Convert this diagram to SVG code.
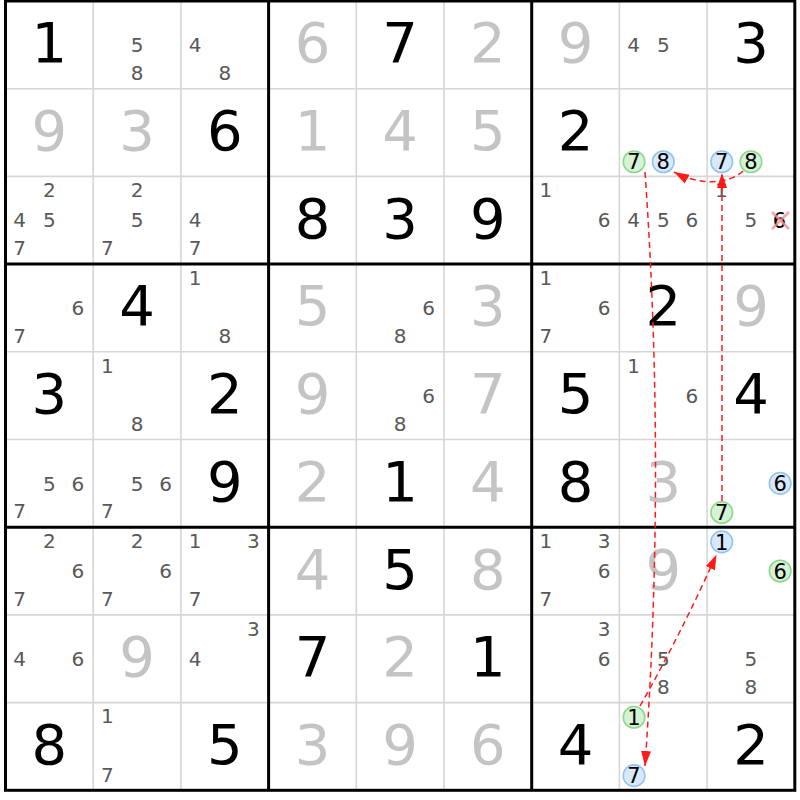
<svg xmlns="http://www.w3.org/2000/svg" width="800" height="800" viewBox="0 0 800 800">
<style>
text{font-family:"DejaVu Sans",Verdana,sans-serif;text-anchor:middle}
.g{font-size:56px;fill:#000}
.s{font-size:56px;fill:#c4c4c4}
.c{font-size:20px;fill:#585858}
.cc{font-size:21px;fill:#000}
.gr{fill:#d5f2d5;stroke:#8ed88e;stroke-width:1.6}
.bl{fill:#d8e9fb;stroke:#92c3f3;stroke-width:1.6}
.thin{stroke:#d6d6d6;stroke-width:1.6}
.thick{stroke:#000;stroke-width:3}
.lnk{fill:none;stroke:#ff1a1a;stroke-width:1.5;stroke-dasharray:6,4}
</style>
<defs>
<marker id="ah" markerUnits="userSpaceOnUse" markerWidth="16" markerHeight="12" refX="15" refY="5.5" orient="auto">
<path d="M0,0.5 L15,5.5 L0,10.5 z" fill="#ff1a1a"/>
</marker>
</defs>
<rect width="800" height="800" fill="#fff"/>
<g id="grid">
<g class="thin">
<line x1="93.2" y1="1" x2="93.2" y2="790.3"/><line x1="180.9" y1="1" x2="180.9" y2="790.3"/>
<line x1="356.3" y1="1" x2="356.3" y2="790.3"/><line x1="444" y1="1" x2="444" y2="790.3"/>
<line x1="619.4" y1="1" x2="619.4" y2="790.3"/><line x1="707.1" y1="1" x2="707.1" y2="790.3"/>
<line x1="5.5" y1="88.7" x2="794.8" y2="88.7"/><line x1="5.5" y1="176.4" x2="794.8" y2="176.4"/>
<line x1="5.5" y1="351.8" x2="794.8" y2="351.8"/><line x1="5.5" y1="439.5" x2="794.8" y2="439.5"/>
<line x1="5.5" y1="614.9" x2="794.8" y2="614.9"/><line x1="5.5" y1="702.6" x2="794.8" y2="702.6"/>
</g>
<g class="thick">
<line x1="268.6" y1="1" x2="268.6" y2="790.3"/><line x1="531.7" y1="1" x2="531.7" y2="790.3"/>
<line x1="5.5" y1="264.1" x2="794.8" y2="264.1"/><line x1="5.5" y1="527.2" x2="794.8" y2="527.2"/>
<rect x="5.5" y="1" width="789.3" height="789.3" fill="none"/>
</g>
</g>
<g id="r0">
<g id="r0c0"><text class="g" x="49.35" y="62.35">1</text></g>
<g id="r0c1"><text class="c" x="137.05" y="52">5</text><text class="c" x="137.05" y="79.9">8</text></g>
<g id="r0c2"><text class="c" x="195.05" y="52">4</text><text class="c" x="224.75" y="79.9">8</text></g>
<g id="r0c3"><text class="s" x="312.45" y="62.35">6</text></g>
<g id="r0c4"><text class="g" x="400.15" y="62.35">7</text></g>
<g id="r0c5"><text class="s" x="487.85" y="62.35">2</text></g>
<g id="r0c6"><text class="s" x="575.55" y="62.35">9</text></g>
<g id="r0c7"><text class="c" x="633.55" y="52">4</text><text class="c" x="663.25" y="52">5</text></g>
<g id="r0c8"><text class="g" x="750.95" y="62.35">3</text></g>
</g>
<g id="r1">
<g id="r1c0"><text class="s" x="49.35" y="150.05">9</text></g>
<g id="r1c1"><text class="s" x="137.05" y="150.05">3</text></g>
<g id="r1c2"><text class="g" x="224.75" y="150.05">6</text></g>
<g id="r1c3"><text class="s" x="312.45" y="150.05">1</text></g>
<g id="r1c4"><text class="s" x="400.15" y="150.05">4</text></g>
<g id="r1c5"><text class="s" x="487.85" y="150.05">5</text></g>
<g id="r1c6"><text class="g" x="575.55" y="150.05">2</text></g>
<g id="r1c7"><circle class="gr" cx="634.05" cy="161.75" r="10.8"/><text class="cc" x="634.05" y="169.4">7</text><circle class="bl" cx="663.25" cy="161.75" r="10.8"/><text class="cc" x="663.25" y="169.4">8</text></g>
<g id="r1c8"><circle class="bl" cx="721.75" cy="161.75" r="10.8"/><text class="cc" x="721.75" y="169.4">7</text><circle class="gr" cx="750.95" cy="161.75" r="10.8"/><text class="cc" x="750.95" y="169.4">8</text></g>
</g>
<g id="r2">
<g id="r2c0"><text class="c" x="49.35" y="197.1">2</text><text class="c" x="19.65" y="227.4">4</text><text class="c" x="49.35" y="227.4">5</text><text class="c" x="19.65" y="255.3">7</text></g>
<g id="r2c1"><text class="c" x="137.05" y="197.1">2</text><text class="c" x="137.05" y="227.4">5</text><text class="c" x="107.35" y="255.3">7</text></g>
<g id="r2c2"><text class="c" x="195.05" y="227.4">4</text><text class="c" x="195.05" y="255.3">7</text></g>
<g id="r2c3"><text class="g" x="312.45" y="237.75">8</text></g>
<g id="r2c4"><text class="g" x="400.15" y="237.75">3</text></g>
<g id="r2c5"><text class="g" x="487.85" y="237.75">9</text></g>
<g id="r2c6"><text class="c" x="545.85" y="197.1">1</text><text class="c" x="604.05" y="227.4">6</text></g>
<g id="r2c7"><text class="c" x="633.55" y="227.4">4</text><text class="c" x="663.25" y="227.4">5</text><text class="c" x="691.75" y="227.4">6</text></g>
<g id="r2c8"><text class="c" x="721.25" y="197.1">1</text><text class="c" x="750.95" y="227.4">5</text><text class="cc" x="779.45" y="227.6">6</text><path d="M772,212 L789,229 M789,212 L772,229" stroke="#f28c8c" stroke-width="2.5" stroke-opacity="0.8"/></g>
</g>
<g id="r3">
<g id="r3c0"><text class="c" x="77.85" y="315.1">6</text><text class="c" x="19.65" y="343">7</text></g>
<g id="r3c1"><text class="g" x="137.05" y="325.45">4</text></g>
<g id="r3c2"><text class="c" x="195.05" y="284.8">1</text><text class="c" x="224.75" y="343">8</text></g>
<g id="r3c3"><text class="s" x="312.45" y="325.45">5</text></g>
<g id="r3c4"><text class="c" x="428.65" y="315.1">6</text><text class="c" x="400.15" y="343">8</text></g>
<g id="r3c5"><text class="s" x="487.85" y="325.45">3</text></g>
<g id="r3c6"><text class="c" x="545.85" y="284.8">1</text><text class="c" x="604.05" y="315.1">6</text><text class="c" x="545.85" y="343">7</text></g>
<g id="r3c7"><text class="g" x="663.25" y="325.45">2</text></g>
<g id="r3c8"><text class="s" x="750.95" y="325.45">9</text></g>
</g>
<g id="r4">
<g id="r4c0"><text class="g" x="49.35" y="413.15">3</text></g>
<g id="r4c1"><text class="c" x="107.35" y="372.5">1</text><text class="c" x="137.05" y="430.7">8</text></g>
<g id="r4c2"><text class="g" x="224.75" y="413.15">2</text></g>
<g id="r4c3"><text class="s" x="312.45" y="413.15">9</text></g>
<g id="r4c4"><text class="c" x="428.65" y="402.8">6</text><text class="c" x="400.15" y="430.7">8</text></g>
<g id="r4c5"><text class="s" x="487.85" y="413.15">7</text></g>
<g id="r4c6"><text class="g" x="575.55" y="413.15">5</text></g>
<g id="r4c7"><text class="c" x="633.55" y="372.5">1</text><text class="c" x="691.75" y="402.8">6</text></g>
<g id="r4c8"><text class="g" x="750.95" y="413.15">4</text></g>
</g>
<g id="r5">
<g id="r5c0"><text class="c" x="49.35" y="490.5">5</text><text class="c" x="77.85" y="490.5">6</text><text class="c" x="19.65" y="518.4">7</text></g>
<g id="r5c1"><text class="c" x="137.05" y="490.5">5</text><text class="c" x="165.55" y="490.5">6</text><text class="c" x="107.35" y="518.4">7</text></g>
<g id="r5c2"><text class="g" x="224.75" y="500.85">9</text></g>
<g id="r5c3"><text class="s" x="312.45" y="500.85">2</text></g>
<g id="r5c4"><text class="g" x="400.15" y="500.85">1</text></g>
<g id="r5c5"><text class="s" x="487.85" y="500.85">4</text></g>
<g id="r5c6"><text class="g" x="575.55" y="500.85">8</text></g>
<g id="r5c7"><text class="s" x="663.25" y="500.85">3</text></g>
<g id="r5c8"><circle class="bl" cx="780.15" cy="483.35" r="10.8"/><text class="cc" x="780.15" y="491">6</text><circle class="gr" cx="721.75" cy="512.55" r="10.8"/><text class="cc" x="721.75" y="520.2">7</text></g>
</g>
<g id="r6">
<g id="r6c0"><text class="c" x="49.35" y="547.9">2</text><text class="c" x="77.85" y="578.2">6</text><text class="c" x="19.65" y="606.1">7</text></g>
<g id="r6c1"><text class="c" x="137.05" y="547.9">2</text><text class="c" x="165.55" y="578.2">6</text><text class="c" x="107.35" y="606.1">7</text></g>
<g id="r6c2"><text class="c" x="195.05" y="547.9">1</text><text class="c" x="253.25" y="547.9">3</text><text class="c" x="195.05" y="606.1">7</text></g>
<g id="r6c3"><text class="s" x="312.45" y="588.55">4</text></g>
<g id="r6c4"><text class="g" x="400.15" y="588.55">5</text></g>
<g id="r6c5"><text class="s" x="487.85" y="588.55">8</text></g>
<g id="r6c6"><text class="c" x="545.85" y="547.9">1</text><text class="c" x="604.05" y="547.9">3</text><text class="c" x="604.05" y="578.2">6</text><text class="c" x="545.85" y="606.1">7</text></g>
<g id="r6c7"><text class="s" x="663.25" y="588.55">9</text></g>
<g id="r6c8"><circle class="bl" cx="721.75" cy="541.85" r="10.8"/><text class="cc" x="721.75" y="549.5">1</text><circle class="gr" cx="780.15" cy="571.05" r="10.8"/><text class="cc" x="780.15" y="578.7">6</text></g>
</g>
<g id="r7">
<g id="r7c0"><text class="c" x="19.65" y="665.9">4</text><text class="c" x="77.85" y="665.9">6</text></g>
<g id="r7c1"><text class="s" x="137.05" y="676.25">9</text></g>
<g id="r7c2"><text class="c" x="253.25" y="635.6">3</text><text class="c" x="195.05" y="665.9">4</text></g>
<g id="r7c3"><text class="g" x="312.45" y="676.25">7</text></g>
<g id="r7c4"><text class="s" x="400.15" y="676.25">2</text></g>
<g id="r7c5"><text class="g" x="487.85" y="676.25">1</text></g>
<g id="r7c6"><text class="c" x="604.05" y="635.6">3</text><text class="c" x="604.05" y="665.9">6</text></g>
<g id="r7c7"><text class="c" x="663.25" y="665.9">5</text><text class="c" x="663.25" y="693.8">8</text></g>
<g id="r7c8"><text class="c" x="750.95" y="665.9">5</text><text class="c" x="750.95" y="693.8">8</text></g>
</g>
<g id="r8">
<g id="r8c0"><text class="g" x="49.35" y="763.95">8</text></g>
<g id="r8c1"><text class="c" x="107.35" y="723.3">1</text><text class="c" x="107.35" y="781.5">7</text></g>
<g id="r8c2"><text class="g" x="224.75" y="763.95">5</text></g>
<g id="r8c3"><text class="s" x="312.45" y="763.95">3</text></g>
<g id="r8c4"><text class="s" x="400.15" y="763.95">9</text></g>
<g id="r8c5"><text class="s" x="487.85" y="763.95">6</text></g>
<g id="r8c6"><text class="g" x="575.55" y="763.95">4</text></g>
<g id="r8c7"><circle class="gr" cx="634.05" cy="717.25" r="10.8"/><text class="cc" x="634.05" y="724.9">1</text><circle class="bl" cx="634.05" cy="775.65" r="10.8"/><text class="cc" x="634.05" y="783.3">7</text></g>
<g id="r8c8"><text class="g" x="750.95" y="763.95">2</text></g>
</g>
<g id="connectors">
<path class="lnk" d="M743,171 C730,184 700,186 674,172" marker-end="url(#ah)"/>
<path class="lnk" d="M722,501 L722,173" marker-end="url(#ah)"/>
<path class="lnk" d="M645,172 Q666,470 645,766" marker-end="url(#ah)"/>
<path class="lnk" d="M640,706 Q681.8,632.3 716.5,554.5" marker-end="url(#ah)"/>
</g>
</svg>
